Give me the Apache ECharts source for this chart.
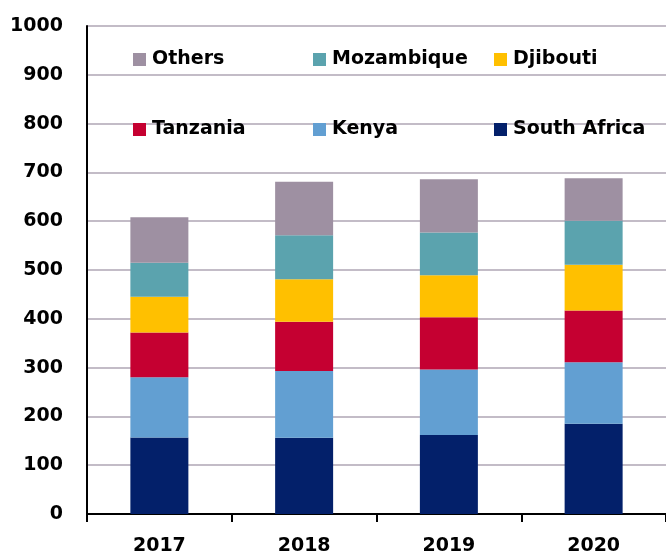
<!DOCTYPE html>
<html>
<head>
<meta charset="utf-8">
<script src="https://cdn.jsdelivr.net/npm/echarts@6/dist/echarts.min.js"></script>
<style>
  html, body { margin: 0; padding: 0; background: #fff; }
  #chart { width: 666px; height: 556px; }
</style>
</head>
<body>
<div id="chart"></div>
<script>
// values, stacked from bottom to top
const years = ['2017', '2018', '2019', '2020'];
const southAfrica = [157, 156, 162, 185];
const kenya = [123, 137, 134, 126];
const tanzania = [92, 101, 107, 106];
const djibouti = [73, 87, 86, 94];
const mozambique = [70, 90, 88, 90];
const others = [93, 110, 109, 87];

const seriesList = [
  { name: 'South Africa', data: southAfrica, color: '#03206a' },
  { name: 'Kenya', data: kenya, color: '#629fd2' },
  { name: 'Tanzania', data: tanzania, color: '#c50031' },
  { name: 'Djibouti', data: djibouti, color: '#ffc000' },
  { name: 'Mozambique', data: mozambique, color: '#5ba3ae' },
  { name: 'Others', data: others, color: '#9e90a2' },
];

// legend placement: one legend per item, laid out as in the picture
const legendSpots = {
  Others: [133, 50],
  Mozambique: [313, 50],
  Djibouti: [494, 50],
  Tanzania: [133, 120],
  Kenya: [313, 120],
  'South Africa': [494, 120],
};

const font = '"DejaVu Sans", sans-serif';

const chart = echarts.init(document.getElementById('chart'));
chart.setOption({
  animation: false,
  grid: {
    left: 87,
    top: 26,
    width: 584,
    height: 490,
  },
  legend: Object.keys(legendSpots).map((name) => ({
    data: [name],
    left: legendSpots[name][0],
    top: legendSpots[name][1],
    icon: 'rect',
    itemWidth: 13,
    itemHeight: 13,
    itemGap: 0,
    padding: 0,
    selectedMode: false,
    textStyle: {
      fontFamily: font,
      fontWeight: 'bold',
      fontSize: 19,
      color: '#000',
      padding: [0, 0, 0, 1],
    },
  })),
  xAxis: {
    type: 'category',
    data: years,
    boundaryGap: true,
    axisLine: { lineStyle: { color: '#000', width: 2 } },
    axisTick: { show: true, length: 8, lineStyle: { color: '#000', width: 2 } },
    axisLabel: {
      fontFamily: font,
      fontWeight: 'bold',
      fontSize: 19,
      color: '#000',
      margin: 23,
    },
  },
  yAxis: {
    type: 'value',
    min: 0,
    max: 1000,
    interval: 100,
    axisLine: { show: true, lineStyle: { color: '#000', width: 2 } },
    axisTick: { show: false },
    splitLine: { lineStyle: { color: '#c3bcc7', width: 2 } },
    axisLabel: {
      fontFamily: font,
      fontWeight: 'bold',
      fontSize: 19,
      color: '#000',
      margin: 24,
      formatter: (v) => String(v),
    },
  },
  series: seriesList.map((s) => ({
    name: s.name,
    type: 'bar',
    stack: 'total',
    data: s.data,
    barWidth: 58,
    itemStyle: { color: s.color },
  })),
});
</script>
</body>
</html>
